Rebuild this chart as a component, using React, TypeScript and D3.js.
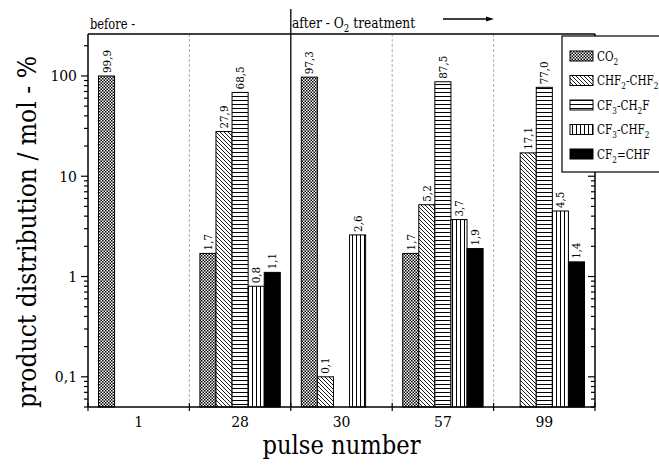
import React from "react";
import * as d3 from "d3";

// pulse numbers on the x axis
const pulses = ["1", "28", "30", "57", "99"];
// legend labels, "_" marks a subscript digit
const seriesLabels = ["CO_2", "CHF_2-CHF_2", "CF_3-CH_2F", "CF_3-CHF_2", "CF_2=CHF"];
const seriesFills = ["url(#pCheck)", "url(#pDiag)", "url(#pHoriz)", "url(#pVert)", "#000"];

// product distribution, mol-%
const co2 = [99.9, 1.7, 97.3, 1.7, null];
const chf2chf2 = [null, 27.9, 0.1, 5.2, 17.1];
const cf3ch2f = [null, 68.5, null, 87.5, 77.0];
const cf3chf2 = [null, 0.8, 2.6, 3.7, 4.5];
const cf2chf = [null, 1.1, null, 1.9, 1.4];
const values = [co2, chf2chf2, cf3ch2f, cf3chf2, cf2chf];

const yDomain = [0.05, 262];
const yTickLabels: Record<string, string> = { "0.1": "0,1", "1": "1", "10": "10", "100": "100" };

const W = 659;
const H = 467;
const m = { left: 88, right: 595, top: 34, bottom: 407 };
const serif = "DejaVu Serif Condensed, Liberation Serif, DejaVu Serif, serif";

const fmt = (v: number) => v.toFixed(1).replace(".", ",");

// split "CF_3-CH_2F" into normal / subscript segments
function segments(s: string) {
  const out: { t: string; sub: boolean }[] = [];
  let i = 0;
  let buf = "";
  while (i < s.length) {
    if (s[i] === "_") {
      if (buf) out.push({ t: buf, sub: false });
      buf = "";
      out.push({ t: s[i + 1], sub: true });
      i += 2;
    } else {
      buf += s[i];
      i++;
    }
  }
  if (buf) out.push({ t: buf, sub: false });
  return out;
}

function Formula({ x, y, text, size, sx = 1 }: { x: number; y: number; text: string; size: number; sx?: number }) {
  let prevSub = false;
  return (
    <text transform={`translate(${x},${y}) scale(${sx},1)`} fontSize={size}>
      {segments(text).map((s, i) => {
        const dy = s.sub && !prevSub ? size * 0.3 : !s.sub && prevSub ? -size * 0.3 : 0;
        prevSub = s.sub;
        return (
          <tspan key={i} dy={dy} fontSize={s.sub ? size * 0.7 : size}>
            {s.t}
          </tspan>
        );
      })}
    </text>
  );
}

export default function App() {
  const x = d3.scaleBand<string>().domain(pulses).range([m.left, m.right]).padding(0);
  const bw = x.bandwidth();
  const inner = d3
    .scaleBand<number>()
    .domain(d3.range(seriesLabels.length))
    .range([10.5, bw - 10.5])
    .padding(0);
  const y = d3.scaleLog().domain(yDomain).range([m.bottom, m.top]);

  const yTicks = y.ticks();
  const isMajor = (t: number) => Math.abs(Math.log10(t) - Math.round(Math.log10(t))) < 1e-9;
  const bounds = pulses.map((p) => x(p)!).concat([m.right]);

  return (
    <svg
      width={W}
      height={H}
      style={{ position: "absolute", left: 0, top: 0, background: "#fff", fontFamily: serif, fontStretch: "condensed" }}
    >
      <defs>
        <pattern id="pCheck" width="3" height="3" patternUnits="userSpaceOnUse">
          <rect width="3" height="3" fill="#fff" />
          <rect width="1.5" height="1.5" fill="#000" />
          <rect x="1.5" y="1.5" width="1.5" height="1.5" fill="#000" />
        </pattern>
        <pattern id="pDiag" width="4" height="4" patternUnits="userSpaceOnUse">
          <rect width="4" height="4" fill="#fff" />
          <path d="M0,0L4,4M-1,3L1,5M3,-1L5,1" stroke="#000" strokeWidth="0.9" />
        </pattern>
        <pattern id="pHoriz" width="4" height="4" patternUnits="userSpaceOnUse">
          <rect width="4" height="4" fill="#fff" />
          <line x1="0" x2="4" y1="0.5" y2="0.5" stroke="#000" strokeWidth="1" />
        </pattern>
        <pattern id="pVert" width="4" height="4" patternUnits="userSpaceOnUse">
          <rect width="4" height="4" fill="#fff" />
          <line x1="0.5" x2="0.5" y1="0" y2="4" stroke="#000" strokeWidth="1" />
        </pattern>
      </defs>

      {/* dashed separators between groups */}
      {bounds.slice(1, -1).map((b, i) =>
        i === 1 ? null : (
          <line key={i} x1={b} x2={b} y1={m.top} y2={m.bottom} stroke="#999" strokeWidth={0.8} strokeDasharray="3,2" />
        )
      )}

      {/* bars */}
      {values.map((vals, si) =>
        vals.map((v, pi) => {
          if (v == null) return null;
          const bx = x(pulses[pi])! + inner(si)!;
          const by = y(v);
          const w = inner.bandwidth();
          const cx = bx + w / 2;
          return (
            <g key={`${si}-${pi}`}>
              <rect x={bx} y={by} width={w} height={m.bottom - by} fill={seriesFills[si]} stroke="#000" strokeWidth={1} />
              <text transform={`translate(${cx + 4},${by - 3}) rotate(-90)`} fontSize={11.5}>
                {fmt(v)}
              </text>
            </g>
          );
        })
      )}

      {/* frame */}
      <line x1={m.left} x2={m.right} y1={m.top} y2={m.top} stroke="#000" strokeWidth={1.5} />
      <line x1={m.left} x2={m.right} y1={m.bottom} y2={m.bottom} stroke="#000" strokeWidth={1.5} />
      <line x1={m.left} x2={m.left} y1={m.top} y2={m.bottom} stroke="#000" strokeWidth={1.5} />
      <line x1={m.right} x2={m.right} y1={m.top} y2={m.bottom} stroke="#000" strokeWidth={1.5} />
      <line x1={bounds[2]} x2={bounds[2]} y1={9} y2={m.bottom} stroke="#000" strokeWidth={1.3} />

      {/* y ticks */}
      {yTicks.map((t, i) => {
        const ty = y(t);
        const len = isMajor(t) ? 7 : 4;
        return (
          <g key={i}>
            <line x1={m.left - len} x2={m.left} y1={ty} y2={ty} stroke="#000" strokeWidth={1.2} />
            <line x1={m.right - len} x2={m.right} y1={ty} y2={ty} stroke="#000" strokeWidth={1.2} />
            {isMajor(t) && (
              <text x={m.left - 11} y={ty + 5.5} textAnchor="end" fontSize={15.5}>
                {yTickLabels[String(t)]}
              </text>
            )}
          </g>
        );
      })}

      {/* x ticks */}
      {bounds.map((b, i) => (
        <line key={i} x1={b} x2={b} y1={m.bottom - 4} y2={m.bottom + 4} stroke="#000" strokeWidth={1.2} />
      ))}
      {pulses.map((p) => (
        <text key={p} x={x(p)! + bw / 2} y={427} textAnchor="middle" fontSize={15.5}>
          {p}
        </text>
      ))}

      {/* axis titles */}
      <text
        x={(m.left + m.right) / 2 - 79}
        y={454}
        fontSize={26}
        textLength={158}
        lengthAdjust="spacingAndGlyphs"
      >
        pulse number
      </text>
      <text
        transform="translate(36,408) rotate(-90)"
        fontSize={26}
        textLength={352}
        lengthAdjust="spacingAndGlyphs"
      >
        product distribution / mol - %
      </text>

      {/* annotations above the plot */}
      <text x={90} y={29} fontSize={14} textLength={45} lengthAdjust="spacingAndGlyphs">
        before -
      </text>
      <Formula x={292} y={28} text={"after -  O_2 treatment"} size={14.5} sx={0.94} />
      <line x1={443} x2={488} y1={19} y2={19} stroke="#000" strokeWidth={1.3} />
      <path d="M486,16.5L494,19L486,21.5Z" fill="#000" />

      {/* legend */}
      <rect x={562} y={36} width={100} height={136} fill="#fff" stroke="#000" strokeWidth={1.2} />
      {seriesLabels.map((s, i) => {
        const ly = 51 + i * 24.5;
        return (
          <g key={s}>
            <rect x={570} y={ly} width={23} height={10} fill={seriesFills[i]} stroke="#000" strokeWidth={1} />
            <Formula x={597} y={ly + 9.5} text={s} size={13.5} sx={0.86} />
          </g>
        );
      })}
    </svg>
  );
}
